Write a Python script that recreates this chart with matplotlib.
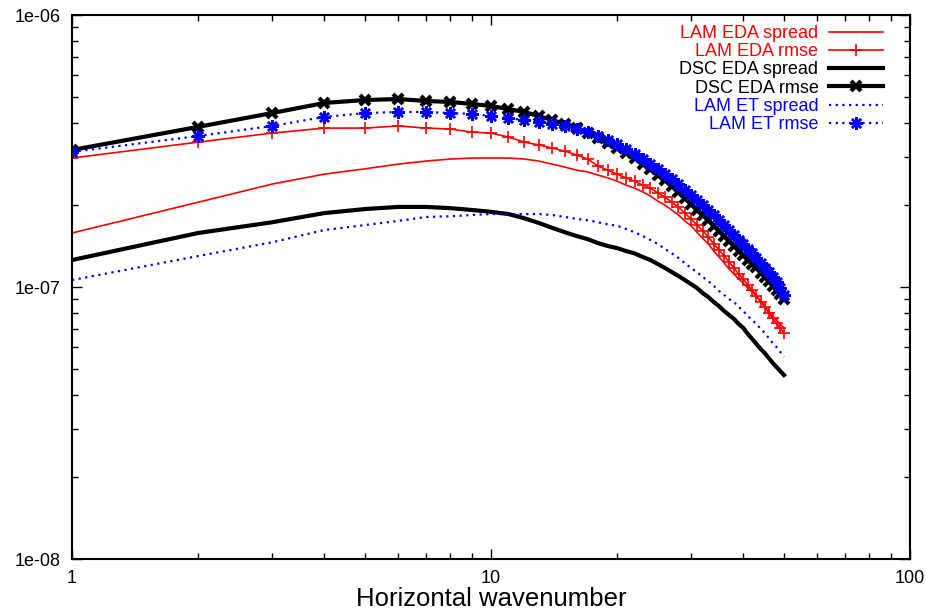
import numpy as np
import matplotlib.pyplot as plt
from matplotlib.ticker import LogLocator, NullFormatter, FixedLocator, FixedFormatter

plt.rcParams['font.family'] = ['Liberation Sans', 'DejaVu Sans']

# wavenumbers 1..50
k = np.arange(1, 51)

# spectra, in units of 1e-7
lam_eda_spread = [1.58, 2.05, 2.39, 2.60, 2.72, 2.83, 2.905, 2.955, 2.98, 2.98,
                  2.98, 2.955, 2.905, 2.83, 2.76, 2.69, 2.65, 2.58, 2.52, 2.45,
                  2.37, 2.31, 2.24, 2.16, 2.07, 2.00, 1.92, 1.84, 1.75, 1.68,
                  1.59, 1.51, 1.44, 1.356, 1.29, 1.225, 1.165, 1.116, 1.070, 1.034,
                  0.992, 0.959, 0.927, 0.888, 0.851, 0.816, 0.781, 0.756, 0.731, 0.707]
lam_eda_rmse = [2.98, 3.41, 3.68, 3.84, 3.84, 3.91, 3.84, 3.81, 3.71, 3.68,
                3.56, 3.41, 3.33, 3.24, 3.16, 3.06, 2.955, 2.785, 2.69, 2.60,
                2.52, 2.45, 2.37, 2.31, 2.22, 2.14, 2.05, 1.97, 1.87, 1.78,
                1.69, 1.61, 1.53, 1.44, 1.37, 1.30, 1.236, 1.175, 1.116, 1.070,
                1.017, 0.975, 0.927, 0.881, 0.844, 0.802, 0.769, 0.737, 0.707, 0.678]
dsc_eda_spread = [1.257, 1.58, 1.73, 1.87, 1.935, 1.97, 1.97, 1.95, 1.92, 1.89,
                  1.855, 1.79, 1.72, 1.65, 1.59, 1.54, 1.50, 1.45, 1.415, 1.39,
                  1.356, 1.33, 1.29, 1.257, 1.215, 1.175, 1.135, 1.098, 1.061, 1.026,
                  0.992, 0.950, 0.919, 0.881, 0.851, 0.816, 0.789, 0.763, 0.731, 0.707,
                  0.672, 0.644, 0.617, 0.592, 0.572, 0.548, 0.526, 0.508, 0.491, 0.475]
dsc_eda_rmse = [3.19, 3.88, 4.36, 4.75, 4.87, 4.91, 4.83, 4.79, 4.71, 4.63,
                4.51, 4.40, 4.25, 4.11, 3.97, 3.84, 3.68, 3.53, 3.38, 3.24,
                3.11, 2.98, 2.83, 2.72, 2.58, 2.47, 2.35, 2.24, 2.12, 2.02,
                1.92, 1.84, 1.76, 1.68, 1.61, 1.54, 1.48, 1.42, 1.36, 1.31,
                1.26, 1.22, 1.18, 1.13, 1.09, 1.05, 1.01, 0.975, 0.943, 0.903]
lam_et_spread = [1.061, 1.30, 1.46, 1.62, 1.69, 1.75, 1.81, 1.82, 1.84, 1.855,
                 1.855, 1.855, 1.855, 1.84, 1.81, 1.78, 1.76, 1.73, 1.70, 1.68,
                 1.635, 1.59, 1.54, 1.49, 1.44, 1.38, 1.33, 1.28, 1.225, 1.175,
                 1.135, 1.088, 1.052, 1.009, 0.967, 0.935, 0.903, 0.881, 0.844, 0.816,
                 0.781, 0.756, 0.731, 0.701, 0.678, 0.649, 0.622, 0.602, 0.577, 0.553]
lam_et_rmse = [3.14, 3.59, 3.91, 4.22, 4.36, 4.40, 4.40, 4.36, 4.33, 4.25,
               4.18, 4.11, 4.04, 3.97, 3.91, 3.81, 3.71, 3.59, 3.47, 3.36,
               3.22, 3.08, 2.955, 2.83, 2.72, 2.60, 2.495, 2.39, 2.27, 2.18,
               2.09, 2.00, 1.92, 1.84, 1.76, 1.69, 1.62, 1.55, 1.49, 1.44,
               1.38, 1.33, 1.28, 1.225, 1.175, 1.135, 1.088, 1.043, 0.992, 0.935]

scale = 1e-7

fig = plt.figure(figsize=(9.26, 6.13), dpi=100)
ax = fig.add_axes([0.0778, 0.088, 0.905, 0.8875])

ax.plot(k, np.array(lam_eda_spread) * scale, color='red', lw=1.2,
        label='LAM EDA spread')
ax.plot(k, np.array(lam_eda_rmse) * scale, color='red', lw=1.2,
        marker='+', ms=8, mew=1.2, label='LAM EDA rmse')
ax.plot(k, np.array(dsc_eda_spread) * scale, color='black', lw=3,
        label='DSC EDA spread')
ax.plot(k, np.array(dsc_eda_rmse) * scale, color='black', lw=3,
        marker='x', ms=7, mew=3, label='DSC EDA rmse')
ax.plot(k, np.array(lam_et_spread) * scale, color='blue', lw=1.6,
        ls=(0, (1, 2)), label='LAM ET spread')
ax.plot(k, np.array(lam_et_rmse) * scale, color='blue', lw=1.6,
        ls=(0, (1, 2)), marker=(8, 2, 0), ms=9, mew=1.8, label='LAM ET rmse')

ax.set_xscale('log')
ax.set_yscale('log')
ax.set_xlim(1, 100)
ax.set_ylim(1e-8, 1e-6)

ax.xaxis.set_major_locator(FixedLocator([1, 10, 100]))
ax.xaxis.set_major_formatter(FixedFormatter(['1', '10', '100']))
ax.xaxis.set_minor_locator(LogLocator(base=10, subs=np.arange(2, 10)))
ax.xaxis.set_minor_formatter(NullFormatter())
ax.yaxis.set_major_locator(FixedLocator([1e-8, 1e-7, 1e-6]))
ax.yaxis.set_major_formatter(FixedFormatter(['1e-08', '1e-07', '1e-06']))
ax.yaxis.set_minor_locator(LogLocator(base=10, subs=np.arange(2, 10)))
ax.yaxis.set_minor_formatter(NullFormatter())

ax.tick_params(which='both', direction='in', top=True, right=True,
               labelsize=13, width=1)
ax.tick_params(which='major', length=7, pad=8)
ax.tick_params(which='minor', length=4)
for s in ax.spines.values():
    s.set_linewidth(1.5)

ax.set_xlabel('Horizontal wavenumber', fontsize=18.5, labelpad=0)

ax.legend(loc='upper right', bbox_to_anchor=(0.98, 1.0), frameon=False,
          markerfirst=False, labelcolor='linecolor', fontsize=13,
          handlelength=3.0, labelspacing=0.07, handletextpad=0.6,
          borderaxespad=0.15)

plt.savefig('out.png', dpi=100)
